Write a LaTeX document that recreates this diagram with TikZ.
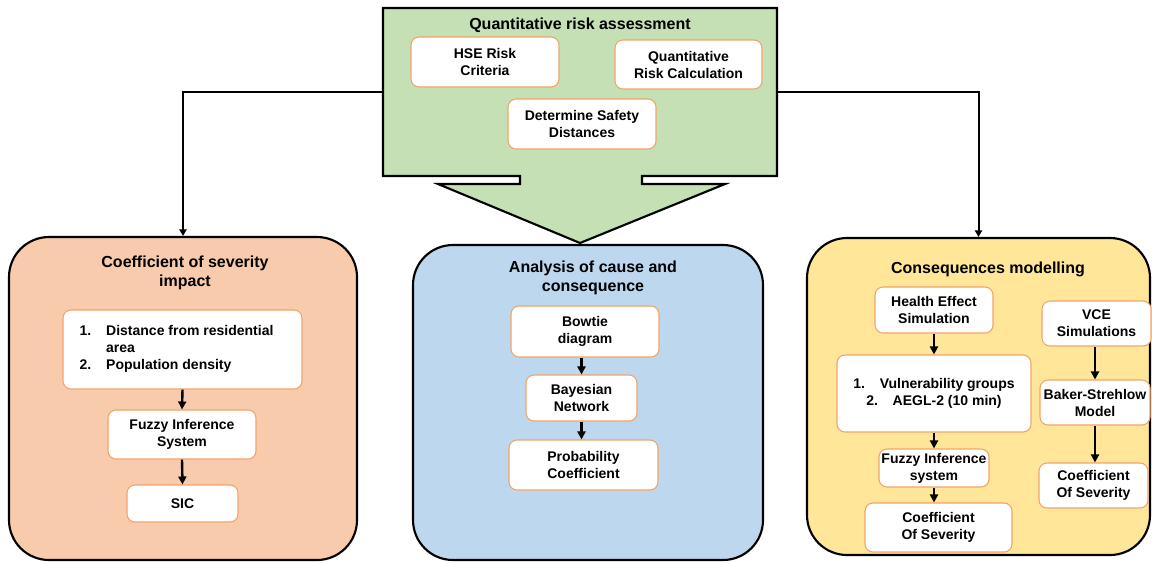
\documentclass[tikz,border=0pt]{standalone}
\usepackage{fontspec}
\setmainfont{Liberation Sans}
\usetikzlibrary{arrows.meta}
\definecolor{qgreen}{HTML}{C5E0B4}
\definecolor{qblue}{HTML}{BDD7EE}
\definecolor{qorange}{HTML}{F8CBAD}
\definecolor{qyellow}{HTML}{FFE699}
\definecolor{qborder}{HTML}{F2A468}
\newcommand\bx[7][ibox]{\node[#1, minimum width={(#5-#3)*0.75pt}, minimum height={(#6-#4)*0.75pt}] (#2) at ({(#3+#5)/2},{(#4+#6)/2}) {#7};}
\begin{document}
\begin{tikzpicture}[x=0.75pt,y=-0.75pt,
 bigbox/.style={draw=black, line width=1.6pt, rounded corners=30pt, inner sep=0pt},
 ibox/.style={draw=qborder, fill=white, line width=0.8pt, rounded corners=6pt, inner sep=0pt, align=center, font=\fontsize{10.5}{12.75}\selectfont\bfseries},
 ttl/.style={align=center, inner sep=0pt, font=\fontsize{12}{14.25}\selectfont\bfseries},
 arr/.style={line width=1.5pt, -{Triangle[width=5.5pt,length=5pt]}},
 iarr/.style={line width=1.8pt, -{Triangle[width=6pt,length=6pt]}},
]
\useasboundingbox (0,0) rectangle (1152,562);
% top green block arrow
\draw[fill=qgreen, line width=1.6pt, line join=miter] (383,8) -- (777,8) -- (777,176) -- (642,176) -- (642,184) -- (725,184) -- (580,243) -- (438,184) -- (520,184) -- (520,176) -- (383,176) -- cycle;
\coordinate (qL) at (383,92);
\coordinate (qR) at (777,92);
\node[ttl] (qt) at (580,25) {Quantitative risk assessment};
\bx{q1}{411}{37}{559}{87}{HSE Risk\\Criteria}
\bx{q2}{615}{40}{762}{89}{Quantitative\\Risk Calculation}
\bx{q3}{508}{99}{656}{149}{Determine Safety\\Distances}

% big boxes
\bx[bigbox, fill=qorange]{cl}{9}{237}{357}{560}{}
\bx[bigbox, fill=qblue]{cm}{413}{245}{763}{560}{}
\bx[bigbox, fill=qyellow]{cr}{807}{238}{1150}{555}{}

\draw[arr] (qL) -| (cl.north);
\draw[arr] (qR) -| (cr.north);

% left
\node[ttl] (lt) at (185,273) {Coefficient of severity\\impact};
\bx{l1}{63}{310}{302}{389}{\begin{tabular}{@{}p{20pt}@{}l@{}}1. & Distance from residential\\ & area\\ 2. & Population density\end{tabular}\hspace{9pt}}
\bx{l2}{108}{410}{256}{459}{Fuzzy Inference\\System}
\bx{l3}{127}{485}{238}{522}{SIC}
\draw[iarr] (l1.south) -- (l2.north);
\draw[iarr] (l2.south) -- (l3.north);

% middle
\node[ttl] (mt) at (593,278) {Analysis of cause and\\consequence};
\bx{m1}{511}{306}{659}{357}{Bowtie\\diagram}
\bx{m2}{526}{375}{637}{421}{Bayesian\\Network}
\bx{m3}{509}{440}{658}{490}{Probability\\Coefficient}
\draw[iarr] (m2.north |- m1.south) -- (m2.north);
\draw[iarr] (m2.south) -- (m2.south |- m3.north);

% right
\node[ttl] (rt) at (988,269) {Consequences modelling};
\bx{r1}{875}{287}{993}{333}{Health Effect\\Simulation}
\bx{r2}{837}{355}{1031}{432}{1.\hspace{11pt}Vulnerability groups\\2.\hspace{11pt}AEGL-2 (10 min)}
\bx{r3}{879}{449}{989}{487}{Fuzzy Inference\\system}
\bx{r4}{865}{503}{1012}{552}{Coefficient\\Of Severity}
\bx{r5}{1042}{301}{1151}{346}{VCE\\Simulations}
\bx{r6}{1040}{380}{1150}{425}{Baker-Strehlow\\Model}
\bx{r7}{1039}{463}{1148}{508}{Coefficient\\Of Severity}
\draw[iarr] (r1.south) -- (r2.north);
\draw[iarr] (r3.north |- r2.south) -- (r3.north);
\draw[iarr] (r3.south) -- (r3.south |- r4.north);
\draw[iarr] (r6.north |- r5.south) -- (r6.north);
\draw[iarr] (r6.south) -- (r6.south |- r7.north);
\end{tikzpicture}
\end{document}
